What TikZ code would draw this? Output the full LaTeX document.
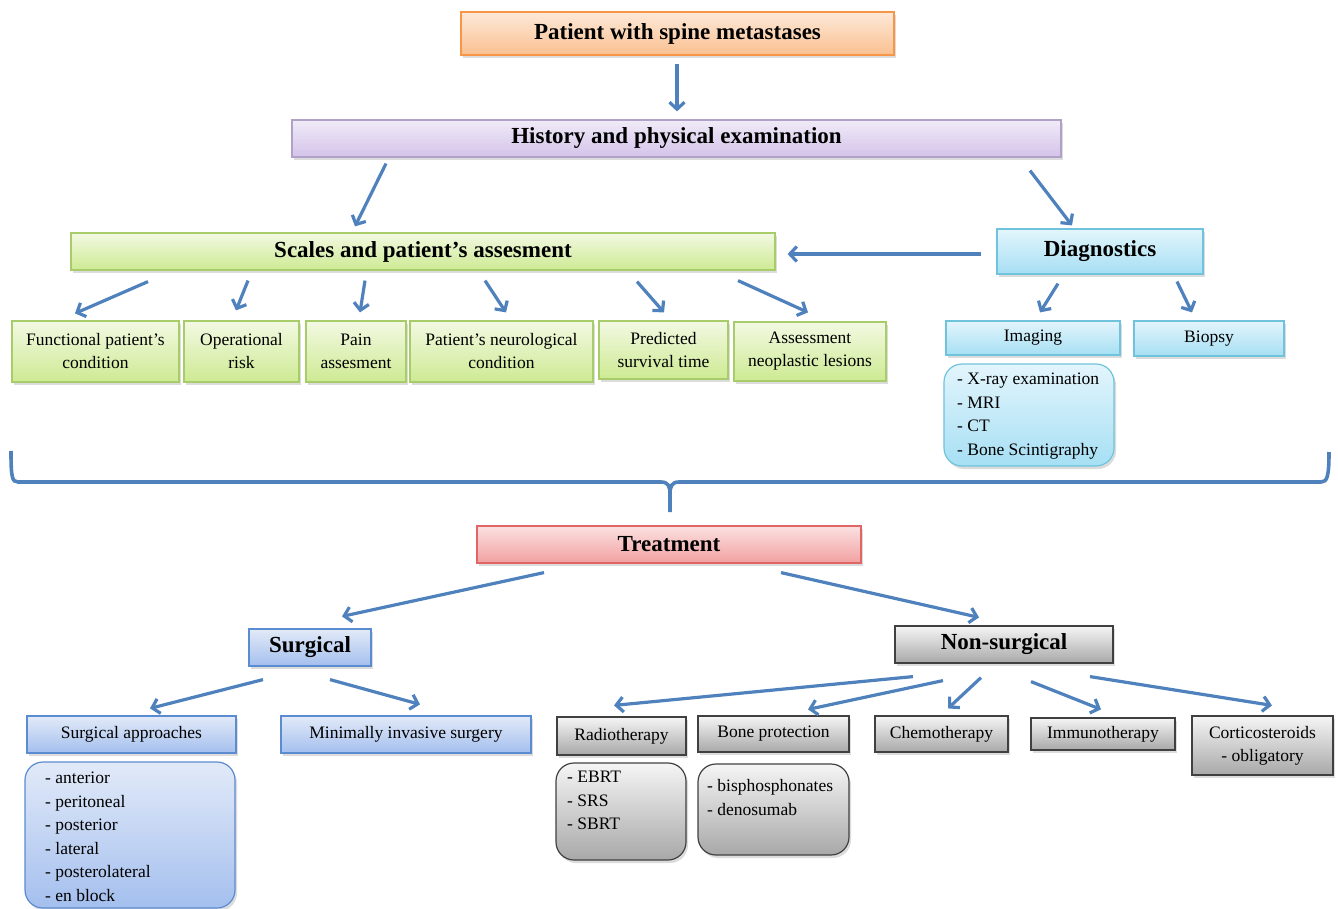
\documentclass[tikz,border=0pt]{standalone}
\usepackage{fontspec}
\setmainfont{Liberation Serif}
\usetikzlibrary{arrows.meta,calc,shadows}

\definecolor{arrowblue}{HTML}{4F81BD}
\definecolor{orangeline}{HTML}{F79646}
\definecolor{purpleline}{HTML}{B2A1C7}
\definecolor{greenline}{HTML}{A9CC6A}
\definecolor{cyanline}{HTML}{6FC3DC}
\definecolor{redline}{HTML}{E06666}
\definecolor{blueline}{HTML}{5B8BD0}
\definecolor{grayline}{HTML}{404040}
\definecolor{orangetop}{HTML}{FDE9D9}
\definecolor{orangebot}{HTML}{FAC090}
\definecolor{purpletop}{HTML}{F0EBF7}
\definecolor{purplebot}{HTML}{D3C3EA}
\definecolor{greentop}{HTML}{F3F9E3}
\definecolor{greenbot}{HTML}{CDEA92}
\definecolor{cyantop}{HTML}{E3F5FC}
\definecolor{cyanbot}{HTML}{A6DFF4}
\definecolor{redtop}{HTML}{FBE1E1}
\definecolor{redbot}{HTML}{F2A0A0}
\definecolor{bluetop}{HTML}{E2EAF8}
\definecolor{bluebot}{HTML}{A4BFEE}
\definecolor{graytop}{HTML}{F5F5F5}
\definecolor{graybot}{HTML}{A8A8A8}

\tikzset{
  box/.style={rectangle, line width=1.2pt, align=center, inner sep=2pt,
    font=\fontsize{17.5}{23}\selectfont,
    drop shadow={shadow xshift=2pt, shadow yshift=-3pt, opacity=0.3, fill=black!45}},
  title/.style={box, font=\fontsize{23}{26}\selectfont\bfseries},
  orangebox/.style={draw=orangeline, top color=orangetop, bottom color=orangebot},
  purplebox/.style={draw=purpleline, top color=purpletop, bottom color=purplebot},
  greenbox/.style={draw=greenline, top color=greentop, bottom color=greenbot},
  cyanbox/.style={draw=cyanline, top color=cyantop, bottom color=cyanbot},
  redbox/.style={draw=redline, top color=redtop, bottom color=redbot},
  bluebox/.style={draw=blueline, top color=bluetop, bottom color=bluebot},
  graybox/.style={draw=grayline, top color=graytop, bottom color=graybot},
  listbox/.style={box, rounded corners=18pt},
  listtext/.style={anchor=north west, align=left, inner sep=0pt,
    font=\fontsize{17.5}{23.5}\selectfont},
  arr/.style={-{Straight Barb[length=7pt,width=15pt]}, line width=3.2pt, arrowblue}
}

\begin{document}
\begin{tikzpicture}[x=1pt, y=-1pt]

  \useasboundingbox (0,0) rectangle (1338,909);

  % top of the chart
  \node[title, orangebox, minimum width=433pt, minimum height=43pt] (patient) at (677.5,33.5) {Patient with spine metastases};
  \node[title, purplebox, minimum width=769pt, minimum height=37pt] (history) at (676.5,138.5) {History and physical examination};
  \node[title, greenbox, minimum width=704pt, minimum height=37pt] (scales) at (423,251.5) {Scales and patient's assesment};
  \node[title, cyanbox, minimum width=206pt, minimum height=45pt] (diag) at (1100,251.5) {Diagnostics};

  % scales
  \node[box, greenbox, minimum width=167pt, minimum height=61pt] (func) at (95.5,351.5) {Functional patient's\\condition};
  \node[box, greenbox, minimum width=115pt, minimum height=61pt] (oper) at (241.5,351.5) {Operational\\risk};
  \node[box, greenbox, minimum width=100pt, minimum height=61pt] (pain) at (356,351.5) {Pain\\assesment};
  \node[box, greenbox, minimum width=183pt, minimum height=61pt] (neuro) at (501.5,351.5) {Patient's neurological\\condition};
  \node[box, greenbox, minimum width=129pt, minimum height=58pt] (pred) at (663.5,350) {Predicted\\survival time};
  \node[box, greenbox, minimum width=152pt, minimum height=59pt] (assess) at (810,351.5) {Assessment\\neoplastic lesions};

  % diagnostics
  \node[box, cyanbox, minimum width=174pt, minimum height=34pt] (imaging) at (1033,338) {Imaging};
  \node[box, cyanbox, minimum width=150pt, minimum height=35pt] (biopsy) at (1209,338.5) {Biopsy};
  \node[listbox, cyanbox, minimum width=170pt, minimum height=102pt] (imglist) at (1029,415) {};
  \node[listtext] (imgtext) at (957,368) {\strut- X-ray examination\\- MRI\\- CT\\- Bone Scintigraphy};

  % brace
  \draw[arrowblue, line width=3.6pt]
    (11,451) .. controls (11,477) and (12,482) .. (18,482) -- (661,482)
    .. controls (668,482) and (670,486) .. (670,494) -- (670,512);
  \draw[arrowblue, line width=3.6pt]
    (670,494) .. controls (670,486) and (672,482) .. (679,482) -- (1321,482)
    .. controls (1327,482) and (1329,477) .. (1329,452);

  % treatment
  \node[title, redbox, minimum width=384pt, minimum height=37pt] (treat) at (669,544.5) {Treatment};
  \node[title, bluebox, minimum width=122pt, minimum height=37pt] (surg) at (310,647.5) {Surgical};
  \node[title, graybox, minimum width=218pt, minimum height=37pt] (nonsurg) at (1004,644.5) {Non-surgical};

  \node[box, bluebox, minimum width=209pt, minimum height=37pt] (approach) at (131.5,734.5) {Surgical approaches};
  \node[box, bluebox, minimum width=250pt, minimum height=37pt] (mis) at (406,734.5) {Minimally invasive surgery};
  \node[listbox, bluebox, minimum width=210pt, minimum height=146pt] (surglist) at (130,835) {};
  \node[listtext] (surgtext) at (45,767) {\strut- anterior\\- peritoneal\\- posterior\\- lateral\\- posterolateral\\- en block};

  \node[box, graybox, minimum width=129pt, minimum height=38pt] (radio) at (621.5,736) {Radiotherapy};
  \node[box, graybox, minimum width=151pt, minimum height=36pt] (bone) at (773.5,734) {Bone protection};
  \node[box, graybox, minimum width=133pt, minimum height=36pt] (chemo) at (941.5,734) {Chemotherapy};
  \node[box, graybox, minimum width=144pt, minimum height=32pt] (immuno) at (1103,734) {Immunotherapy};
  \node[box, graybox, minimum width=141pt, minimum height=59pt] (cortico) at (1262.5,745.5) {Corticosteroids\\- obligatory};
  \node[listbox, graybox, minimum width=130pt, minimum height=97pt] (radlist) at (621,811.5) {};
  \node[listtext] (radtext) at (567,766) {\strut- EBRT\\- SRS\\- SBRT};
  \node[listbox, graybox, minimum width=151pt, minimum height=91pt] (bonelist) at (773.5,809.5) {};
  \node[listtext] (bonetext) at (707,775) {\strut- bisphosphonates\\- denosumab};

  % arrows
  \draw[arr] ($(patient.south)+(-0.5,8)$) -- ($(history.north)+(0.5,-8)$);
  \draw[arr] ($(history.south)+(-290.5,6)$) -- ($(scales.north)+(-68,-6)$);
  \draw[arr] ($(history.south)+(353.5,13)$) -- ($(diag.north)+(-28,-3)$);
  \draw[arr] ($(diag.west)+(-15,2.5)$) -- ($(scales.east)+(12,2.5)$);

  \draw[arr] ($(scales.south)+(-275,11)$) -- ($(func.north)+(-20.5,-7)$);
  \draw[arr] ($(scales.south)+(-175,10)$) -- ($(oper.north)+(-5.5,-10)$);
  \draw[arr] ($(scales.south)+(-58,10)$) -- ($(pain.north)+(4,-8)$);
  \draw[arr] ($(scales.south)+(62,10)$) -- ($(neuro.north)+(4.5,-8)$);
  \draw[arr] ($(scales.south)+(214,11)$) -- ($(pred.north)+(0.5,-8)$);
  \draw[arr] ($(scales.south)+(315,10)$) -- ($(assess.north)+(-2,-9)$);

  \draw[arr] ($(diag.south)+(-42,9)$) -- ($(imaging.north)+(7,-8)$);
  \draw[arr] ($(diag.south)+(77,7)$) -- ($(biopsy.north)+(-17,-8)$);

  \draw[arr] ($(treat.south)+(-125,9)$) -- ($(surg.north)+(32,-12)$);
  \draw[arr] ($(treat.south)+(112,9)$) -- ($(nonsurg.north)+(-25,-8)$);

  \draw[arr] ($(surg.south)+(-47,13)$) -- ($(approach.north)+(18.5,-7)$);
  \draw[arr] ($(surg.south)+(20,13)$) -- ($(mis.north)+(14,-11)$);

  \draw[arr] ($(nonsurg.south)+(-91,13)$) -- ($(radio.north)+(-7.5,-11)$);
  \draw[arr] ($(nonsurg.south)+(-61,17)$) -- ($(bone.north)+(34.5,-6)$);
  \draw[arr] ($(nonsurg.south)+(-23,14)$) -- ($(chemo.north)+(6.5,-7)$);
  \draw[arr] ($(nonsurg.south)+(27,18)$) -- ($(immuno.north)+(-2,-8)$);
  \draw[arr] ($(nonsurg.south)+(86,13)$) -- ($(cortico.north)+(9.5,-10)$);

\end{tikzpicture}
\end{document}
